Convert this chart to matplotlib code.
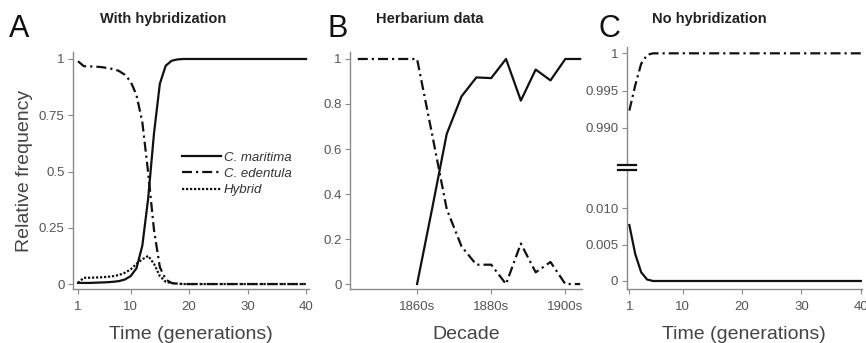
import numpy as np
import matplotlib

matplotlib.use("Agg")
import matplotlib.pyplot as plt
from matplotlib.lines import Line2D

plt.rcParams["font.family"] = ["Liberation Sans", "DejaVu Sans"]

# --- data ---
gens = np.arange(1, 41)

# A: with hybridization
hyb_maritima = [0.005, 0.005, 0.005, 0.006, 0.007, 0.008, 0.010, 0.013, 0.020, 0.035,
                0.070, 0.170, 0.380, 0.670, 0.890, 0.970, 0.992, 0.998] + [1.0] * 22
hyb_edentula = [0.990, 0.968, 0.967, 0.966, 0.964, 0.960, 0.955, 0.947, 0.930, 0.900,
                0.840, 0.720, 0.495, 0.240, 0.075, 0.020, 0.005, 0.001] + [0.0] * 22
hyb_hybrid = [0.005, 0.028, 0.028, 0.029, 0.030, 0.032, 0.035, 0.040, 0.050, 0.065,
              0.090, 0.110, 0.125, 0.090, 0.035, 0.010, 0.004, 0.002] + [0.0] * 22

# B: herbarium data
herb_years = [1844, 1848, 1852, 1856, 1860, 1864, 1868, 1872, 1876, 1880, 1884, 1888,
              1892, 1896, 1900, 1904]
herb_maritima = [np.nan] * 4 + [0.0, 0.33, 0.667, 0.834, 0.918, 0.915, 1.0, 0.815,
                                0.953, 0.905, 1.0, 1.0]
herb_edentula = [1.0, 1.0, 1.0, 1.0, 1.0, 0.67, 0.333, 0.167, 0.086, 0.086, 0.0, 0.18,
                 0.052, 0.098, 0.0, 0.0]
decade_ticks = [1860, 1880, 1900]
decade_labels = ["1860s", "1880s", "1900s"]

# C: no hybridization
nohyb_edentula = [0.9923, 0.9957, 0.9986, 0.9998] + [1.0] * 36
nohyb_maritima = [0.0077, 0.0037, 0.0012, 0.0002] + [0.0] * 36

W, H = 866, 343
fig = plt.figure(figsize=(W / 100, H / 100), dpi=100)


def px_axes(x0, y0, x1, y1):
    # pixel box (top-left origin) -> figure axes
    return fig.add_axes([x0 / W, 1 - y1 / H, (x1 - x0) / W, (y1 - y0) / H])


SPINE = "#8a8a8a"
TICKC = "#555555"
LW = 1.6
DASHDOT = (0, (4.5, 1.8, 1.0, 1.8))
DOTTED = (0, (1.0, 0.8))
LABEL_KW = dict(fontsize=14, color="#444", labelpad=9)


def style(ax, bottom=True):
    for s in ("top", "right"):
        ax.spines[s].set_visible(False)
    for s in ("left", "bottom"):
        ax.spines[s].set_color(SPINE)
        ax.spines[s].set_linewidth(1.0)
    ax.tick_params(colors=SPINE, labelcolor=TICKC, labelsize=9.5, length=3.5,
                   width=0.8, pad=2.5)
    ax.tick_params(axis="x", pad=5.5)
    if not bottom:
        ax.spines["bottom"].set_visible(False)
        ax.tick_params(axis="x", bottom=False, labelbottom=False)


# --- Panel A ---
axA = px_axes(73, 52, 309, 289)
axA.plot(gens, hyb_maritima, color="#111", lw=LW, ls="-", label="C. maritima")
axA.plot(gens, hyb_edentula, color="#111", lw=LW, ls=DASHDOT, label="C. edentula")
axA.plot(gens, hyb_hybrid, color="#111", lw=LW, ls=DOTTED, label="Hybrid")
axA.set_xlim(0.15, 40.5)
axA.set_ylim(-0.022, 1.031)
axA.set_xticks([1, 10, 20, 30, 40])
axA.set_yticks([0, 0.25, 0.5, 0.75, 1])
axA.set_yticklabels(["0", "0.25", "0.5", "0.75", "1"])
style(axA)
axA.set_xlabel("Time (generations)", **LABEL_KW)
axA.set_ylabel("Relative frequency", fontsize=14, color="#444", labelpad=4)
leg = axA.legend(loc="upper left", bbox_to_anchor=(0.46, 0.58), frameon=False,
                 borderpad=0, borderaxespad=0, handlelength=3.0, handletextpad=0.2,
                 labelspacing=0.3, prop={"size": 9.5, "style": "italic"})
for t in leg.get_texts():
    t.set_color("#333")

# --- Panel B ---
axB = px_axes(350, 52, 582, 289)
axB.plot(herb_years, herb_maritima, color="#111", lw=LW, ls="-")
axB.plot(herb_years, herb_edentula, color="#111", lw=LW, ls=DASHDOT)
axB.set_xlim(1841.9, 1904.5)
axB.set_ylim(-0.022, 1.031)
axB.set_xticks(decade_ticks)
axB.set_xticklabels(decade_labels)
axB.set_yticks([0, 0.2, 0.4, 0.6, 0.8, 1])
axB.set_yticklabels(["0", "0.2", "0.4", "0.6", "0.8", "1"])
style(axB)
axB.set_xlabel("Decade", **LABEL_KW)

# --- Panel C (broken y axis) ---
axCt = px_axes(626.7, 47, 862, 163)
axCb = px_axes(626.7, 171, 862, 288.7)
axCt.plot(gens, nohyb_edentula, color="#111", lw=LW, ls=DASHDOT)
axCb.plot(gens, nohyb_maritima, color="#111", lw=LW, ls="-")
for ax in (axCt, axCb):
    ax.set_xlim(0.56, 40.2)
axCt.set_ylim(0.98526, 1.00085)
axCb.set_ylim(-0.00106, 0.01513)
axCt.set_yticks([0.990, 0.995, 1.0])
axCt.set_yticklabels(["0.990", "0.995", "1"])
axCb.set_yticks([0, 0.005, 0.010])
axCb.set_yticklabels(["0", "0.005", "0.010"])
axCb.set_xticks([1, 10, 20, 30, 40])
style(axCt, bottom=False)
style(axCb)
axCb.set_xlabel("Time (generations)", **LABEL_KW)

# break marks
for yb in (164.5, 170.3):
    fig.add_artist(Line2D([617.7 / W, 635.7 / W], [1 - yb / H, 1 - yb / H],
                          color="#111", lw=1.6))

# --- panel letters + titles ---
for x, letter in ((9, "A"), (328, "B"), (599, "C")):
    fig.text(x / W, 1 - 37 / H, letter, fontsize=22, color="#111", va="baseline")
for x, title in ((100, "With hybridization"), (376, "Herbarium data"),
                 (652, "No hybridization")):
    fig.text(x / W, 1 - 23 / H, title, fontsize=10.5, fontweight="bold", color="#222",
             va="baseline")

fig.savefig("out.png", dpi=100)
